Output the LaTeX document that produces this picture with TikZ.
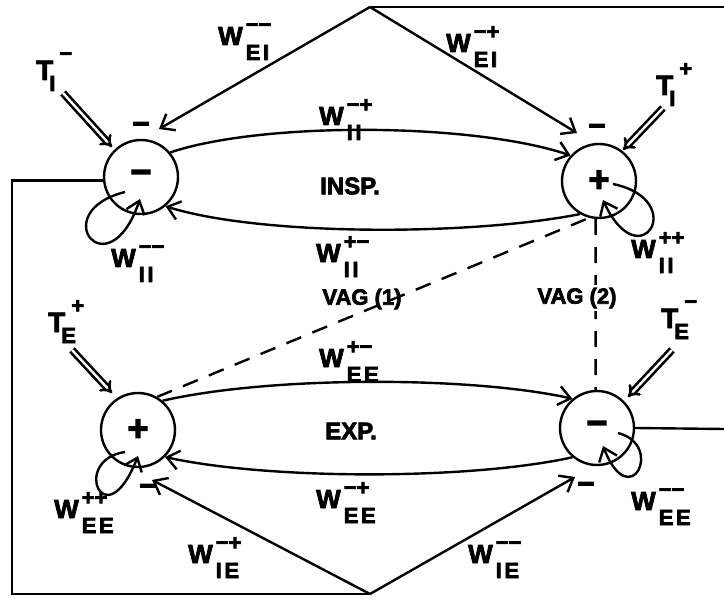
\documentclass[tikz,border=0pt]{standalone}
\usepackage{fontspec}
\setmainfont{Liberation Sans}[BoldFeatures={FakeBold=3}]
\usetikzlibrary{arrows.meta}
\newcommand\szs{\fontsize{22}{22}\selectfont}
\newcommand\szb{\fontsize{22}{22}\selectfont\addfontfeatures{LetterSpace=12}}
\newcommand\Wl[2]{W\kern3pt\rlap{\raisebox{13pt}{\szs #1}}\raisebox{-15pt}{\szb #2}}
\newcommand\Tl[2]{T\rlap{\kern-4pt\raisebox{-11pt}{\szs #2}}\kern6pt\raisebox{19pt}{\szs #1}}
\begin{document}
\begin{tikzpicture}[x=1pt,y=-1pt,line width=2.4pt,
  every node/.style={font=\bfseries\fontsize{26}{26}\selectfont,inner sep=0pt},
  st/.style={circle,draw,minimum size=74pt,inner sep=0pt,font=\bfseries\fontsize{36}{36}\selectfont},
  arr/.style={-{Straight Barb[length=12pt,width=19pt]}},
  dsh/.style={dash pattern=on 16pt off 12pt},
  dbl/.style={double,double distance=2.4pt,line width=2.6pt,-{Implies[scale=2]}},
  sgn/.style={font=\bfseries\fontsize{30}{30}\selectfont},
  lab/.style={anchor=base west},
  tl/.style={anchor=base west,font=\bfseries\fontsize{28}{28}\selectfont},
  big/.style={font=\bfseries\fontsize{24}{24}\selectfont},
  vag/.style={font=\bfseries\fontsize{22}{22}\selectfont}]
\useasboundingbox (0,0) rectangle (724,599);
% circles
\node[st] (IM) at (141,177) {−};
\node[st] (IP) at (599,181) {+};
\node[st] (EP) at (138,430) {+};
\node[st] (EM) at (597,428) {−};
% frame coordinates
\coordinate (TA) at (370,7);
\coordinate (TR) at (724,7);
\coordinate (BA) at (370,594);
\coordinate (BL) at (12,594);
\coordinate (RE) at (724,429);
\coordinate (aIM) at (159,129);
\coordinate (aIP) at (577,133);
\coordinate (aEP) at (152,480);
\coordinate (aEM) at (575,477);
% frame lines
\draw (TR) -- (TA);
\draw[arr] (TA) -- (aIM);
\draw[arr] (TA) -- (aIP);
\draw (IM.185) -| (BL) -- (BA);
\draw[arr] (BA) -- (aEP);
\draw[arr] (BA) -- (aEM);
\draw (EM.east) -- (RE);
% arcs
\draw[arr] (IM.40) .. controls (260,122) and (470,122) .. (IP.138);
\draw[arr] (IP.240) .. controls (470,236) and (260,236) .. (IM.-50);
\draw[arr] (EP.50) .. controls (270,376) and (470,376) .. (EM.130);
\draw[arr] (EM.230) .. controls (470,480) and (270,480) .. (EP.-45);
% dashed
\draw[dsh] (EP.60) -- (IP.255);
\draw[dsh] (IP.265) -- (EM.92);
% loops
\draw[arr] ([shift={(-16,15)}]IM.center) .. controls ([shift={(-96,35)}]IM.center) and ([shift={(-33,115)}]IM.center) .. ([shift={(-1,22)}]IM.center);
\draw[arr] ([shift={(14,3)}]IP.center) .. controls ([shift={(91,19)}]IP.center) and ([shift={(41,99)}]IP.center) .. ([shift={(4,19)}]IP.center);
\draw[arr] ([shift={(-13,22)}]EP.center) .. controls ([shift={(-68,30)}]EP.center) and ([shift={(-33,110)}]EP.center) .. ([shift={(0,26)}]EP.center);
\draw[arr] ([shift={(21,5)}]EM.center) .. controls ([shift={(68,17)}]EM.center) and ([shift={(33,87)}]EM.center) .. ([shift={(6,18)}]EM.center);
% double arrows
\coordinate (d1a) at (63,93);  \coordinate (d1b) at (112,147);
\coordinate (d2a) at (663,108); \coordinate (d2b) at (623,150);
\coordinate (d3a) at (72,350); \coordinate (d3b) at (112,393);
\coordinate (d4a) at (672,350); \coordinate (d4b) at (628,397);
\draw[dbl] (d1a) -- (d1b);
\draw[dbl] (d2a) -- (d2b);
\draw[dbl] (d3a) -- (d3b);
\draw[dbl] (d4a) -- (d4b);
% sign marks
\node[sgn] (s1) at (141,128) {−};
\node[sgn] (s2) at (597,130) {−};
\node[sgn] (s3) at (148,490) {−};
\node[sgn] (s4) at (586,488) {−};
% labels
\node[lab] (wEImm) at (217,45) {\Wl{−−}{EI}};
\node[lab] (wEImp) at (445,52) {\Wl{−+}{EI}};
\node[lab] (wIImp) at (318,125) {\Wl{−+}{II}};
\node[lab] (wIIpm) at (315,262) {\Wl{+−}{II}};
\node[lab] (wEEpm) at (318,367) {\Wl{+−}{EE}};
\node[lab] (wEEmp) at (315,508) {\Wl{−+}{EE}};
\node[lab] (wIImm) at (110,267) {\Wl{−−}{II}};
\node[lab] (wIIpp) at (630,258) {\Wl{++}{II}};
\node[lab] (wEEpp) at (53,518) {\Wl{++}{EE}};
\node[lab] (wEEmm) at (630,510) {\Wl{−−}{EE}};
\node[lab] (wIEmp) at (187,563) {\Wl{−+}{IE}};
\node[lab] (wIEmm) at (467,563) {\Wl{−−}{IE}};
\node[tl] (tIm) at (35,80) {\Tl{−}{I}};
\node[tl] (tIp) at (655,95) {\Tl{+}{I}};
\node[tl] (tEp) at (47,332) {\Tl{+}{E}};
\node[tl] (tEm) at (660,328) {\Tl{−}{E}};
\node[big] (insp) at (350,186) {INSP.};
\node[big] (exp) at (351,431) {EXP.};
\node[vag] (vag1) at (362,299) {VAG (1)};
\node[vag,fill=white,inner sep=3pt] (vag2) at (577,298) {VAG (2)};
\end{tikzpicture}
\end{document}
